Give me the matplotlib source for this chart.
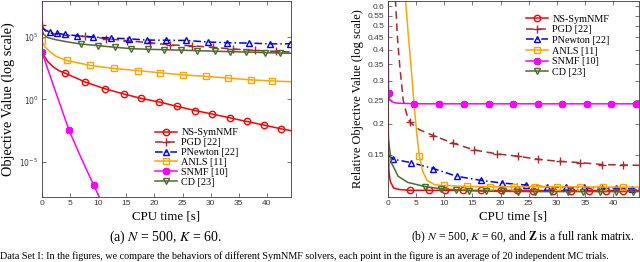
import matplotlib
matplotlib.use("Agg")
import matplotlib.pyplot as plt
from matplotlib.lines import Line2D

# ---------------- data : left panel (a) ----------------
labels = ["NS-SymNMF", "PGD [22]", "PNewton [22]", "ANLS [11]", "SNMF [10]", "CD [23]"]

a_ns_t = [0, 0.5, 1, 2, 3, 4.1, 7.7, 11.2, 14.6, 17.7, 20.9, 24.1, 27.2, 30.3, 33.4, 36.4, 39.5, 42.5, 44.3]
a_ns_v = [7.1e3, 2.5e3, 1.1e3, 4.0e2, 2.0e2, 1.26e2, 24.5, 7.1, 2.7, 1.2, 0.62, 0.275, 0.13, 0.068, 0.034,
          0.0174, 8.9e-3, 4.5e-3, 3.2e-3]
a_ns_mk = [5, 6, 7, 8, 9, 10, 11, 12, 13, 14, 15, 16, 17]

a_pgd_t = [0, 0.5, 1.4, 3, 5, 7.7, 11.4, 15.2, 19.2, 22.8, 26.6, 30.5, 34.0, 37.9, 41.7, 44.3]
a_pgd_v = [8.3e5, 3.2e5, 2.0e5, 1.5e5, 1.26e5, 1.1e5, 7.4e4, 4.9e4, 3.4e4, 2.3e4, 1.95e4, 1.45e4, 1.07e4,
           8.3e3, 6.9e3, 6.2e3]
a_pgd_mk = [0, 5, 6, 7, 8, 9, 10, 11, 12, 13, 14]

a_pn_t = [0, 1.4, 2.7, 4.1, 6.3, 9.0, 12.2, 15.4, 18.6, 22.1, 25.7, 29.5, 33.0, 36.8, 40.5, 44.1]
a_pn_v = [5.0e5, 2.3e5, 1.9e5, 1.58e5, 1.23e5, 9.8e4, 8.1e4, 7.1e4, 5.6e4, 5.4e4, 5.2e4, 3.9e4, 3.4e4,
          3.2e4, 2.8e4, 2.8e4]
a_pn_mk = list(range(1, 16))

a_anls_t = [0, 0.5, 1.4, 2.5, 4.4, 8.6, 12.8, 17.1, 21, 25, 29.2, 33.1, 37.1, 41, 44.3]
a_anls_v = [4.9e4, 1.6e4, 6.9e3, 2.8e3, 1.3e3, 5.2e2, 3.0e2, 2.0e2, 1.35e2, 93, 69, 51, 37, 30, 26]
a_anls_mk = [0, 4, 5, 6, 7, 8, 9, 10, 11, 12, 13]

a_snmf_t = [0, 0.02, 1, 2, 3, 4.8, 6.5, 8, 9.2, 10.5]
a_snmf_v = [1e9, 5.8e3, 2.9e2, 14, 0.74, 3.5e-3, 6.3e-5, 2.0e-6, 1.4e-7, 7.9e-9]
a_snmf_mk = [1, 5, 8]

a_cd_t = [0, 0.3, 1, 2.5, 4.5, 6.9, 10, 13, 15.8, 18.8, 21.7, 24.7, 27.6, 30.7, 33.5, 36.3, 39.6, 42.4, 44.3]
a_cd_v = [3.2e5, 1.6e5, 8.9e4, 5.9e4, 4.0e4, 2.7e4, 2.0e4, 1.48e4, 1.15e4, 1.02e4, 9.5e3, 8.7e3, 7.9e3,
          7.2e3, 6.6e3, 6.2e3, 5.5e3, 5.1e3, 4.9e3]
a_cd_mk = list(range(5, 18))

# ---------------- data : right panel (b) ----------------
b_ns_t = [0, 0.05, 0.15, 0.4, 1.0, 2.0, 3.9, 7.2, 10.2, 13.3, 16.6, 20.0, 22.9, 25.8, 29.3, 32.6, 35.8,
          38.8, 41.7, 44.6]
b_ns_v = [0.8, 0.2, 0.13, 0.117, 0.110, 0.1085, 0.1077, 0.1077, 0.1076, 0.1076, 0.1076, 0.1076, 0.1076,
          0.1075, 0.1075, 0.1075, 0.1075, 0.1075, 0.1075, 0.1075]
b_ns_mk = list(range(6, 19))

b_pgd_t = [1.0, 1.3, 1.7, 2.1, 2.7, 3.3, 3.9, 5.5, 8.05, 11.6, 15.3, 19.3, 23.1, 26.7, 30.5, 34.1, 38.1,
           41.7, 44.6]
b_pgd_v = [1.0, 0.65, 0.44, 0.342, 0.25, 0.22, 0.203, 0.19, 0.1795, 0.167, 0.157, 0.1514, 0.148, 0.1438,
           0.1411, 0.1395, 0.137, 0.1364, 0.136]
b_pgd_mk = [6] + list(range(8, 18))

b_pn_t = [0, 0.95, 4.1, 8.05, 12.2, 16.6, 20.2, 24.5, 28.2, 31.6, 34.8, 38.1, 40.6, 43.3, 44.6]
b_pn_v = [0.150, 0.1439, 0.1395, 0.132, 0.1228, 0.1181, 0.1153, 0.1132, 0.1111, 0.111, 0.1108, 0.1101,
          0.110, 0.109, 0.109]
b_pn_mk = list(range(1, 14))

b_anls_t = [3.0, 3.13, 3.6, 4.1, 4.6, 5.1, 5.57, 6.2, 6.9, 8.3, 9.9, 14.0, 18.1, 22.3, 26.1, 30.1, 34.1,
            38.2, 41.7, 44.6]
b_anls_v = [0.75, 0.63, 0.46, 0.342, 0.245, 0.1836, 0.148, 0.128, 0.1185, 0.1134, 0.1127, 0.1117, 0.1114,
            0.1113, 0.1115, 0.1114, 0.1112, 0.1111, 0.111, 0.111]
b_anls_mk = [6] + list(range(10, 19))

b_snmf_t = [0, 0.1, 0.3, 0.7, 1.5, 4.7, 9.0, 13.5, 17.9, 22.2, 26.7, 31.0, 35.4, 39.7, 44.1, 44.6]
b_snmf_v = [0.58, 0.268, 0.252, 0.246, 0.243, 0.2415, 0.2414, 0.2414, 0.2414, 0.2414, 0.2414, 0.2414,
            0.2414, 0.2414, 0.2414, 0.2414]
b_snmf_mk = [1] + list(range(5, 15))

b_cd_t = [0, 0.6, 1.8, 3.5, 6.6, 9.4, 12.1, 14.4, 17.4, 20.4, 23.1, 26.1, 28.9, 32.0, 34.7, 37.6, 40.6,
          43.6, 44.6]
b_cd_v = [0.178, 0.1395, 0.1228, 0.116, 0.1115, 0.1093, 0.1082, 0.1074, 0.1068, 0.1066, 0.1065, 0.1064,
          0.1064, 0.1064, 0.1064, 0.1064, 0.1064, 0.1064, 0.1064]
b_cd_mk = list(range(4, 18))

b_yticks = [0.15, 0.2, 0.25, 0.3, 0.35, 0.4, 0.45, 0.5, 0.55, 0.6]
x_ticks = [0, 5, 10, 15, 20, 25, 30, 35, 40]

# ---------------- styles ----------------
colors = ["#FF0000", "#A52A2A", "#0000FF", "#FFA500", "#FF00FF", "#4E6B2B"]
markers = ["o", "+", "^", "s", (8, 2, 0), "v"]
dashes = [None, (5, 3), (5, 2, 1, 2), None, None, None]

SERIF = "Liberation Serif"
SANS = "Liberation Sans"
EDGE = "#3a3a3a"

fig = plt.figure(figsize=(6.4, 2.62), dpi=100)


def rect(l, t, r, b):
    return [l / 640, 1 - b / 262, (r - l) / 640, (b - t) / 262]


def line_kw(i):
    kw = dict(color=colors[i], lw=1.1, marker=markers[i], ms=4.6, mew=1.0, mfc="none")
    if i == 1:
        kw["ms"] = 5.5
    if i == 4:
        kw["ms"] = 5.2
        kw["mew"] = 1.4
    return kw


def draw(ax, series):
    for i, (t, v, mk) in enumerate(series):
        ln, = ax.plot(t, v, markevery=mk, **line_kw(i))
        if dashes[i] is not None:
            ln.set_dashes(dashes[i])


def handles():
    hs = []
    for i in range(6):
        h = Line2D([], [], **line_kw(i))
        if dashes[i] is not None:
            h.set_dashes(dashes[i])
        hs.append(h)
    return hs


def style(ax):
    for s in ax.spines.values():
        s.set_color(EDGE)
        s.set_linewidth(0.6)
    ax.tick_params(which="both", direction="in", top=True, right=True, length=3, width=0.5,
                   colors=EDGE, labelsize=6, pad=2.5)
    for lab in ax.get_xticklabels() + ax.get_yticklabels():
        lab.set_fontfamily(SANS)


# ----- left -----
ax1 = fig.add_axes(rect(42, 1, 291, 197))
draw(ax1, [(a_ns_t, a_ns_v, a_ns_mk), (a_pgd_t, a_pgd_v, a_pgd_mk), (a_pn_t, a_pn_v, a_pn_mk),
           (a_anls_t, a_anls_v, a_anls_mk), (a_snmf_t, a_snmf_v, a_snmf_mk), (a_cd_t, a_cd_v, a_cd_mk)])
ax1.set_yscale("log")
ax1.set_xlim(0, 44.3)
ax1.set_ylim(10 ** -7.8, 10 ** 7.87)
ax1.set_xticks(x_ticks)
ax1.set_yticks([1e-5, 1e0, 1e5])
ax1.set_yticklabels(["$10^{-5}$", "$10^{0}$", "$10^{5}$"])
ax1.minorticks_off()
style(ax1)
for lab in ax1.get_yticklabels():
    lab.set_math_fontfamily("dejavusans")
    lab.set_fontsize(5.5)
ax1.set_xlabel("CPU time [s]", fontfamily=SERIF, fontsize=9.3, labelpad=2)
ax1.set_ylabel("Objective Value (log scale)", fontfamily=SERIF, fontsize=10.3, labelpad=3)
ax1.legend(handles(), labels, loc="center left", bbox_to_anchor=(0.452, 0.2015), frameon=False,
           prop={"family": SERIF, "size": 7.3}, labelspacing=0.08, handlelength=2.2,
           handletextpad=0.45, borderpad=0, borderaxespad=0)

# ----- right -----
ax2 = fig.add_axes(rect(388, 1, 639, 197))
draw(ax2, [(b_ns_t, b_ns_v, b_ns_mk), (b_pgd_t, b_pgd_v, b_pgd_mk), (b_pn_t, b_pn_v, b_pn_mk),
           (b_anls_t, b_anls_v, b_anls_mk), (b_snmf_t, b_snmf_v, b_snmf_mk), (b_cd_t, b_cd_v, b_cd_mk)])
ax2.set_yscale("log")
ax2.set_xlim(0, 44.6)
ax2.set_ylim(0.1012, 0.63)
ax2.set_xticks(x_ticks)
ax2.set_yticks(b_yticks)
ax2.set_yticklabels([f"{v:g}" for v in b_yticks])
ax2.minorticks_off()
style(ax2)
ax2.set_xlabel("CPU time [s]", fontfamily=SERIF, fontsize=9.3, labelpad=2)
ax2.set_ylabel("Relative Objective Value (log scale)", fontfamily=SERIF, fontsize=8.9, labelpad=3)
ax2.legend(handles(), labels, loc="center left", bbox_to_anchor=(0.548, 0.772), frameon=False,
           prop={"family": SERIF, "size": 7.3}, labelspacing=0.15, handlelength=2.2,
           handletextpad=0.45, borderpad=0, borderaxespad=0)

# ----- captions -----
fig.text(166 / 640, 1 - 237 / 262, "(a) $N$ = 500, $K$ = 60.", ha="center", va="center",
         fontfamily=SERIF, fontsize=10, math_fontfamily="stix")
fig.text(523 / 640, 1 - 237 / 262, r"(b) $N$ = 500, $K$ = 60, and $\mathbf{Z}$ is a full rank matrix.",
         ha="center", va="center", fontfamily=SERIF, fontsize=8.4, math_fontfamily="stix")
fig.text(0.0, 1 - 251.5 / 262,
         "Data Set I: In the figures, we compare the behaviors of different SymNMF solvers, "
         "each point in the figure is an average of 20 independent MC trials.",
         ha="left", va="top", fontfamily=SERIF, fontsize=7.3)

fig.savefig("out.png", dpi=100)
